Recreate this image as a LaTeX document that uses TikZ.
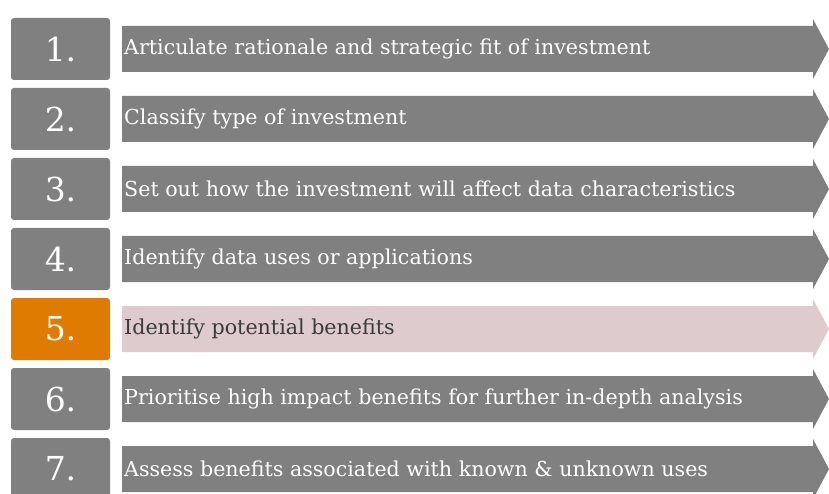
\documentclass[tikz,border=0pt]{standalone}
\usepackage{fontspec}
\setmainfont{DejaVu Serif}
\usepackage{xcolor}
\usepackage{tikz}

\definecolor{stepgray}{HTML}{808080}
\definecolor{steporange}{HTML}{DF7B00}
\definecolor{steppink}{HTML}{DDCBCD}
\definecolor{darktext}{HTML}{3A3A3A}

\tikzset{
  numbox/.style={rounded corners=3pt, minimum width=99pt, minimum height=62pt,
    inner sep=0pt, text=white, font=\fontsize{33}{37}\selectfont},
  steptext/.style={anchor=west, inner sep=2pt, font=\fontsize{20.6}{24}\selectfont}
}

\begin{document}
\begin{tikzpicture}[x=1pt,y=-1pt]
	\useasboundingbox (0,0) rectangle (829,494);
	\clip (0,0) rectangle (829,494);
	\foreach \n/\boxcol/\arrcol/\txtcol/\txt in {
		1/stepgray/stepgray/white/Articulate rationale and strategic fit of investment,
		2/stepgray/stepgray/white/Classify type of investment,
		3/stepgray/stepgray/white/Set out how the investment will affect data characteristics,
		4/stepgray/stepgray/white/Identify data uses or applications,
		5/steporange/steppink/darktext/Identify potential benefits,
		6/stepgray/stepgray/white/Prioritise high impact benefits for further in-depth analysis,
		7/stepgray/stepgray/white/Assess benefits associated with known \& unknown uses}
	{
		\pgfmathsetmacro\y{49+70*(\n-1)}
		% arrow body and head
		\fill[\arrcol] (122,\y-23) -- (813,\y-23) -- (813,\y-30) -- (829,\y)
			-- (813,\y+30) -- (813,\y+23) -- (122,\y+23) -- cycle;
		\node[numbox, fill=\boxcol] (num\n) at (60.5,\y) {\n.};
		\node[steptext, text=\txtcol] (txt\n) at (122,\y) {\txt};
	}
\end{tikzpicture}
\end{document}
